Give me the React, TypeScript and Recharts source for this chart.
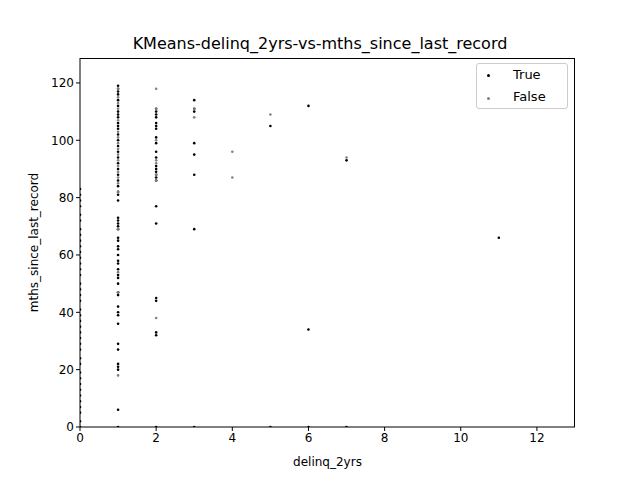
import { ScatterChart, Scatter, XAxis, YAxis, Label } from 'recharts'

const trueX0 = [0, 2, 5, 7, 9, 11, 13, 15, 17, 19, 22, 24, 27, 29, 31, 33, 35, 37, 39, 41, 44, 46, 48, 50, 53, 55, 57, 59, 61, 63, 65, 67, 69, 72, 74, 77, 79, 81, 83]
const trueX1 = [0, 6, 20, 21, 22, 27, 29, 36, 39, 40, 42, 46, 47, 50, 52, 53, 55, 57, 58, 60, 62, 63, 65, 66, 69, 70, 71, 72, 73, 79, 81, 82, 84, 86, 88, 90, 92, 94, 96, 98, 100, 102, 104, 105, 106, 108, 109, 110, 112, 114, 116, 117, 118, 119]
const falseX1 = [18, 47, 54, 69, 82, 85, 87, 89, 91, 93, 95, 97, 99, 101, 103, 107, 111, 113, 115, 118]
const trueX2 = [0, 32, 33, 44, 45, 71, 77, 86, 87, 88, 89, 90, 91, 94, 96, 99, 101, 104, 105, 106, 108, 109, 110, 111]
const falseX2 = [38, 86, 88, 92, 93, 100, 111, 118]
const trueOther = [
  { x: 3, y: 0 }, { x: 3, y: 69 }, { x: 3, y: 88 }, { x: 3, y: 95 }, { x: 3, y: 99 }, { x: 3, y: 110 }, { x: 3, y: 111 }, { x: 3, y: 114 },
  { x: 5, y: 105 }, { x: 5, y: 0 }, { x: 6, y: 112 }, { x: 6, y: 34 }, { x: 6, y: 0 }, { x: 7, y: 93 }, { x: 7, y: 0 }, { x: 11, y: 66 }
]
const falseOther = [
  { x: 3, y: 108 }, { x: 3, y: 111 }, { x: 4, y: 87 }, { x: 4, y: 96 }, { x: 5, y: 109 }, { x: 7, y: 94 }
]
const xTicks = [0, 2, 4, 6, 8, 10, 12]
const yTicks = [0, 20, 40, 60, 80, 100, 120]

const trueData = [
  ...trueX0.map((y) => ({ x: 0, y })),
  ...trueX1.map((y) => ({ x: 1, y })),
  ...trueX2.map((y) => ({ x: 2, y })),
  ...trueOther
]
const falseData = [
  ...falseX1.map((y) => ({ x: 1, y })),
  ...falseX2.map((y) => ({ x: 2, y })),
  ...falseOther
]

const dot = (color: string) => (p: any) => <circle cx={p.cx} cy={p.cy} r={1.3} fill={color} />
const font = { fontFamily: 'DejaVu Sans', fontSize: 12, fill: '#000' }

export default function App() {
  return (
    <div style={{ position: 'absolute', left: 0, top: 0, width: 640, height: 480, background: '#fff', fontFamily: 'DejaVu Sans' }}>
      <div style={{ position: 'absolute', top: 34, width: 640, textAlign: 'center', fontSize: 16 }}>
        KMeans-delinq_2yrs-vs-mths_since_last_record
      </div>
      <ScatterChart width={640} height={480} margin={{ top: 58, right: 65, bottom: 0, left: 20 }}>
        <XAxis type="number" dataKey="x" domain={[0, 13]} ticks={xTicks} height={53} tickSize={4}
          stroke="#000" tick={font} allowDataOverflow>
          <Label value="delinq_2yrs" position="insideBottom" offset={14} style={font} />
        </XAxis>
        <YAxis type="number" dataKey="y" domain={[0, 128.7]} ticks={yTicks} width={60} tickSize={4}
          stroke="#000" tick={font} allowDataOverflow>
          <Label value="mths_since_last_record" angle={-90} position="insideLeft" offset={14} style={{ ...font, textAnchor: 'middle' }} />
        </YAxis>
        <Scatter data={trueData} shape={dot('#000')} isAnimationActive={false} />
        <Scatter data={falseData} shape={dot('#808080')} isAnimationActive={false} />
      </ScatterChart>
      <div style={{ position: 'absolute', left: 80, top: 58, width: 495, height: 369, borderTop: '1px solid #000', borderRight: '1px solid #000', boxSizing: 'border-box', pointerEvents: 'none' }} />
      <div style={{ position: 'absolute', left: 476, top: 63, width: 92, height: 46, border: '1px solid #ccc', borderRadius: 3, fontSize: 13, boxSizing: 'border-box' }}>
        <div style={{ position: 'absolute', left: 10, top: 10, width: 3, height: 3, borderRadius: 2, background: '#000' }} />
        <div style={{ position: 'absolute', left: 36, top: 3 }}>True</div>
        <div style={{ position: 'absolute', left: 10, top: 33, width: 3, height: 3, borderRadius: 2, background: '#808080' }} />
        <div style={{ position: 'absolute', left: 36, top: 25 }}>False</div>
      </div>
    </div>
  )
}
